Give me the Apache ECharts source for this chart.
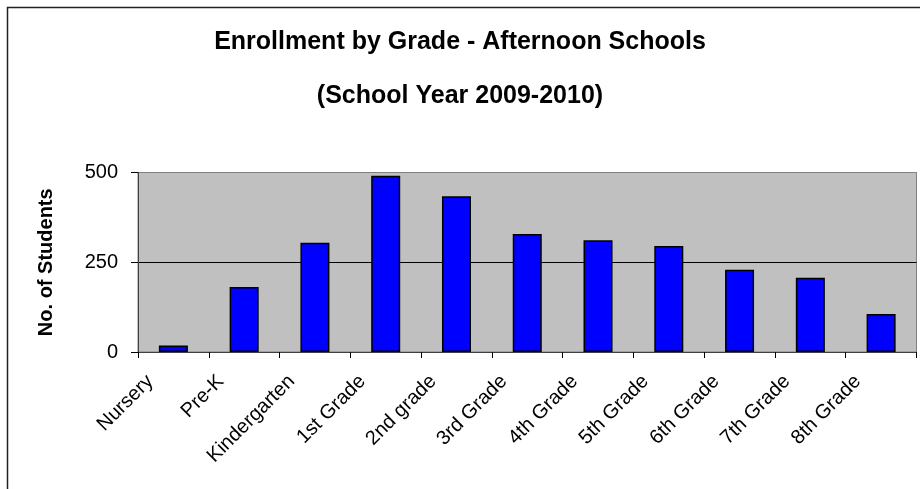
<!DOCTYPE html>
<html>
<head>
<meta charset="utf-8">
<title>Enrollment by Grade</title>
<script src="https://cdn.jsdelivr.net/npm/echarts@6/dist/echarts.min.js"></script>
<style>
  html, body { margin: 0; padding: 0; background: #fff; }
  #chart { width: 920px; height: 489px; }
</style>
</head>
<body>
<div id="chart"></div>
<script>
// 数据
const grades = ['Nursery', 'Pre-K', 'Kindergarten', '1st Grade', '2nd grade', '3rd Grade',
  '4th Grade', '5th Grade', '6th Grade', '7th Grade', '8th Grade']
const students = [18, 181, 304, 491, 434, 329, 311, 295, 229, 207, 106]
const yTicks = [0, 250, 500]

const font = 'Arial, "Liberation Sans", sans-serif'

const chart = echarts.init(document.getElementById('chart'))

const option = {
  backgroundColor: '#ffffff',
  animation: false,
  title: [
    {
      text: 'Enrollment by Grade - Afternoon Schools',
      left: 'center',
      top: 25,
      textStyle: { fontFamily: font, fontSize: 25, fontWeight: 'bold', color: '#000' }
    },
    {
      text: '(School Year 2009-2010)',
      left: 'center',
      top: 79,
      textStyle: { fontFamily: font, fontSize: 25, fontWeight: 'bold', color: '#000' }
    }
  ],
  // 外框
  graphic: [
    {
      type: 'rect',
      shape: { x: 7.5, y: 7.5, width: 1000, height: 1000 },
      style: { fill: 'none', stroke: '#222', lineWidth: 1.5 },
      silent: true
    }
  ],
  grid: {
    left: 138,
    top: 172.5,
    right: 3.5,
    bottom: 137,
    show: true,
    backgroundColor: '#c0c0c0',
    borderColor: '#808080',
    borderWidth: 1
  },
  xAxis: {
    type: 'category',
    data: grades,
    boundaryGap: true,
    axisLine: { lineStyle: { color: '#404040', width: 1 } },
    axisTick: { show: true, alignWithLabel: false, length: 6, lineStyle: { color: '#000' } },
    axisLabel: {
      interval: 0,
      rotate: 45,
      margin: 3,
      padding: [0, 33, 0, 0],
      fontFamily: font,
      fontSize: 20,
      color: '#000'
    }
  },
  yAxis: {
    type: 'value',
    min: yTicks[0],
    max: yTicks[yTicks.length - 1],
    interval: yTicks[1] - yTicks[0],
    name: 'No. of Students',
    nameLocation: 'middle',
    nameGap: 82,
    nameTextStyle: { fontFamily: font, fontSize: 20, fontWeight: 'bold', color: '#000' },
    axisLine: { show: true, lineStyle: { color: '#404040', width: 1 } },
    axisTick: { show: true, inside: false, length: 7, lineStyle: { color: '#000' } },
    axisLabel: { margin: 20, fontFamily: font, fontSize: 20, color: '#000' },
    splitLine: { show: true, lineStyle: { color: ['#000000', '#000000', '#808080'], width: 1 } }
  },
  series: [
    {
      type: 'bar',
      data: students,
      barWidth: '41%',
      itemStyle: { color: '#0000ff', borderColor: '#000', borderWidth: 1.5 }
    }
  ]
}

chart.setOption(option)
</script>
</body>
</html>
